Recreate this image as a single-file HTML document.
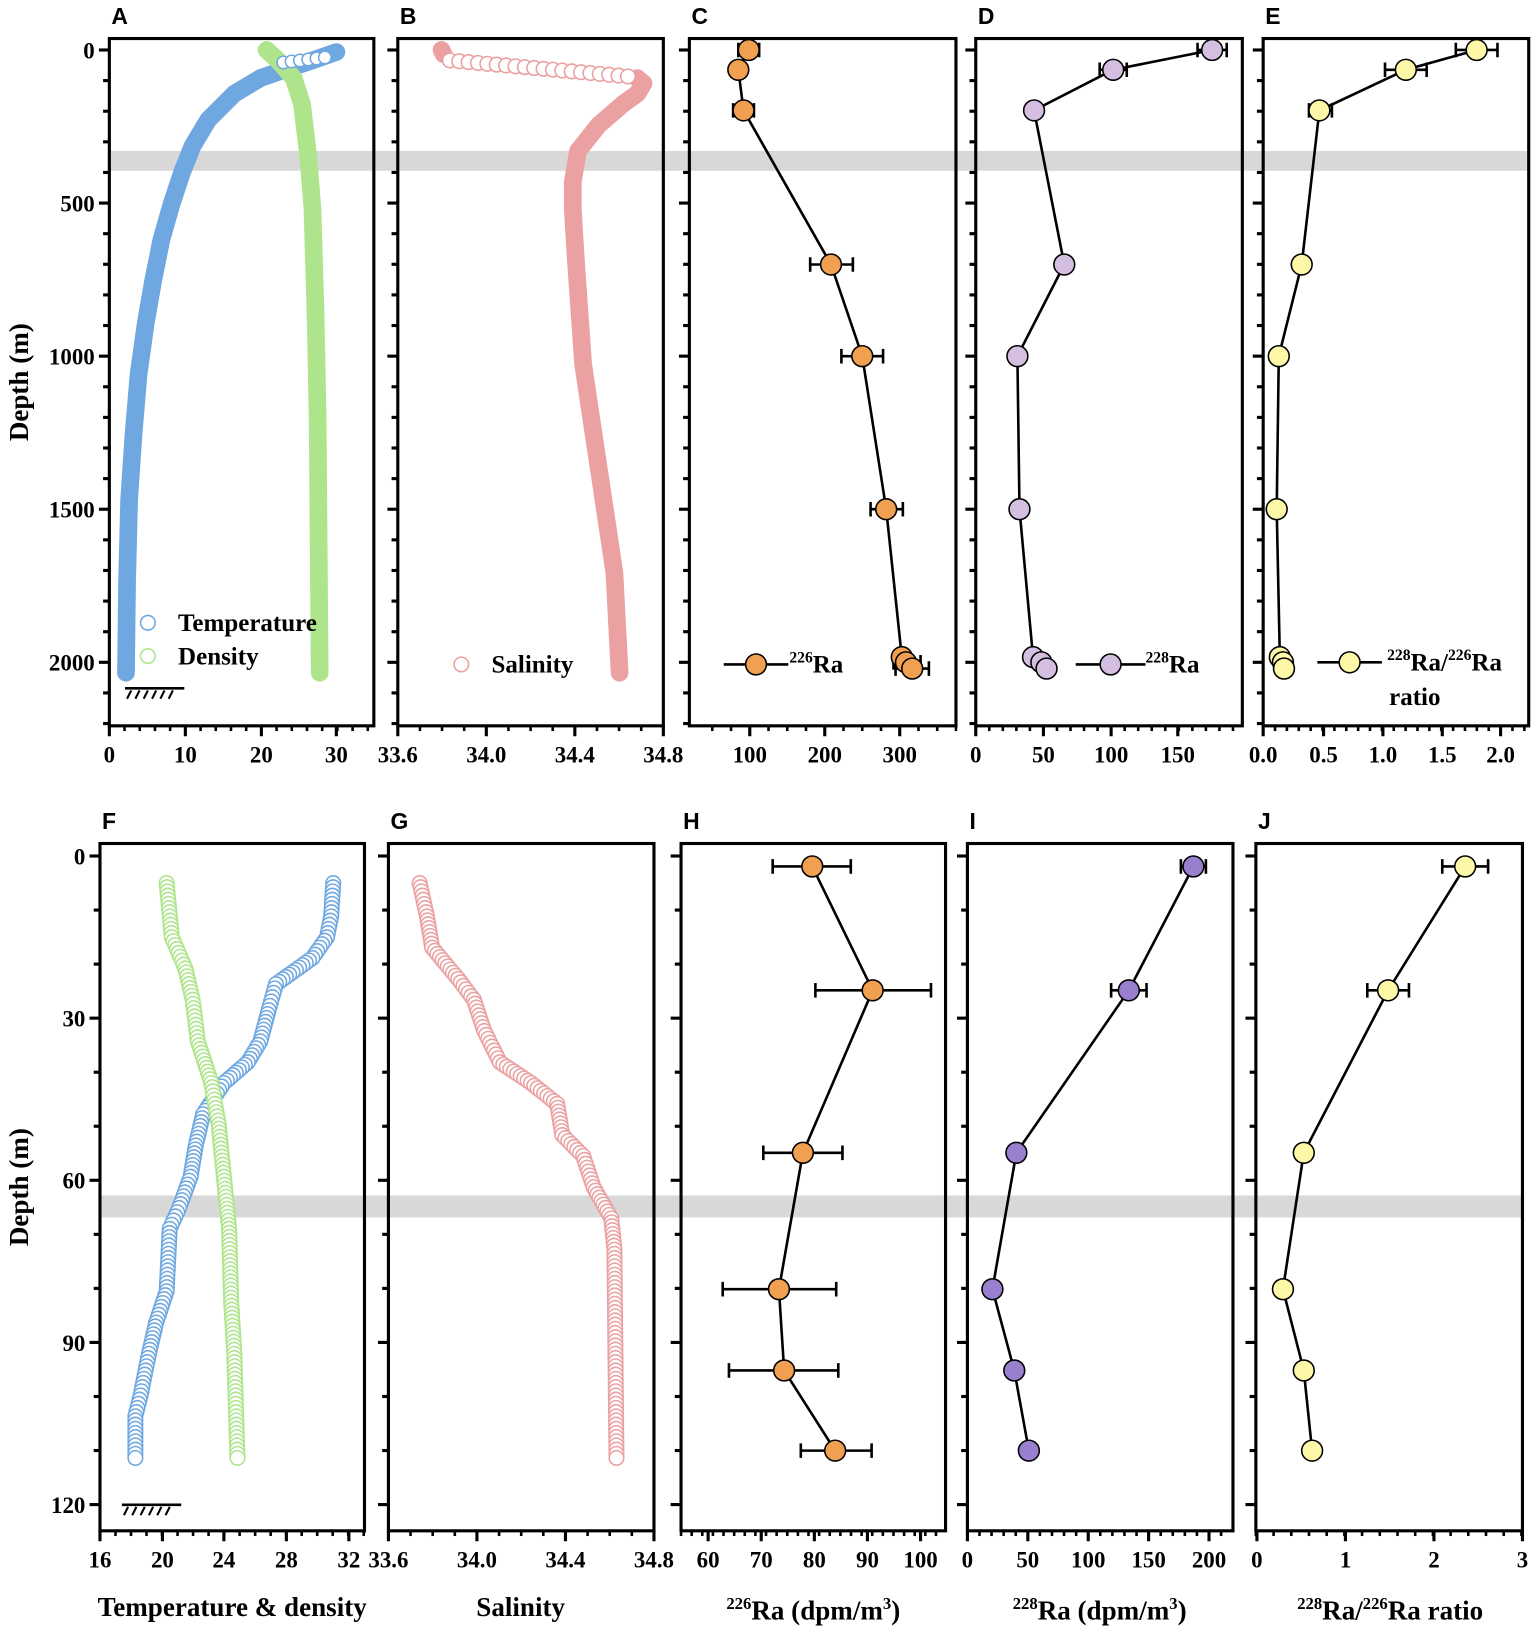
<!DOCTYPE html>
<html><head><meta charset="utf-8"><style>
html,body{margin:0;padding:0;background:#fff;}
svg{display:block;}
text{font-family:"Liberation Serif",serif;font-weight:bold;fill:#000;}
.pl{font-family:"Liberation Sans",sans-serif;font-size:22px;}
</style></head><body>
<svg id="s" width="1536" height="1636" viewBox="0 0 1475 1571" preserveAspectRatio="none" xmlns="http://www.w3.org/2000/svg"></svg>
<script>
const S=document.getElementById('s');let h='';
function A(x){h+=x;}
A('<rect x="105" y="145" width="1363" height="19" fill="#d8d8d8"/>');
A('<rect x="96" y="1148" width="1366" height="21" fill="#d8d8d8"/>');
function panel(x0,x1,y0,y1,lbl,yt,ylab,xt,xminor){
  A(`<text class="pl" x="${x0+2}" y="${y0-14}">${lbl}</text>`);
  yt.forEach(t=>{A(`<line x1="${x0}" x2="${x0-(t[2]?10:6)}" y1="${t[0]}" y2="${t[0]}" stroke="#000" stroke-width="3"/>`);
    if(ylab&&t[1]!=null)A(`<text x="${x0-14}" y="${t[0]+8}" font-size="22" text-anchor="end">${t[1]}</text>`);});
  xminor.forEach(x=>A(`<line x1="${x}" x2="${x}" y1="${y1}" y2="${y1+5}" stroke="#000" stroke-width="2.5"/>`));
  xt.forEach(t=>{A(`<line x1="${t[0]}" x2="${t[0]}" y1="${y1}" y2="${y1+10}" stroke="#000" stroke-width="3"/>`);
    A(`<text x="${t[0]}" y="${y1+35}" font-size="22" text-anchor="middle">${t[1]}</text>`);});
  A(`<rect x="${x0}" y="${y0}" width="${x1-x0}" height="${y1-y0}" fill="none" stroke="#000" stroke-width="3"/>`);
}
function minor(a,b,step){let r=[];for(let x=a;x<=b+0.1;x+=step)r.push(x);return r;}
let yt1=[];for(let i=0;i<=22;i++){let y=48+i*29.4;yt1.push([y,i%5==0?i*100:null,i%5==0]);}
let yt2=[];for(let i=0;i<=12;i++){let y=822+i*51.9;yt2.push([y,i%3==0?i*10:null,i%3==0]);}
const T1=37,B1=697,T2=810,B2=1470;
panel(105,359,T1,B1,'A',yt1,true,[[105,0],[178,10],[251,20],[323,30]],minor(105,359,14.6));
panel(382,637,T1,B1,'B',yt1,false,[[382,'33.6'],[467,'34.0'],[552,'34.4'],[637,'34.8']],minor(382,637,21.25));
panel(662,918,T1,B1,'C',yt1,false,[[720,100],[792,200],[864,300]],minor(684,918,18));
panel(937,1193,T1,B1,'D',yt1,false,[[937,0],[1002,50],[1067,100],[1131,150]],minor(937,1193,13));
panel(1213,1468,T1,B1,'E',yt1,false,[[1213,'0.0'],[1271,'0.5'],[1328,'1.0'],[1385,'1.5'],[1441,'2.0']],minor(1213,1468,11.4));
panel(96,350,T2,B2,'F',yt2,true,[[96,16],[156,20],[215,24],[275,28],[335,32]],minor(96,350,14.9));
panel(373,628,T2,B2,'G',yt2,false,[[373,'33.6'],[458,'34.0'],[543,'34.4'],[628,'34.8']],minor(373,628,21.25));
panel(654,908,T2,B2,'H',yt2,false,[[680,60],[731,70],[782,80],[833,90],[884,100]],minor(654,908,10.2));
panel(929,1184,T2,B2,'I',yt2,false,[[929,0],[987,50],[1045,100],[1103,150],[1161,200]],minor(929,1184,11.6));
panel(1206,1462,T2,B2,'J',yt2,false,[[1207,0],[1292,1],[1377,2],[1462,3]],minor(1206,1462,17));
function thick(pts,c){A(`<polyline points="${pts.map(p=>p.join(',')).join(' ')}" fill="none" stroke="${c}" stroke-width="17" stroke-linecap="round" stroke-linejoin="round"/>`);}
thick([[323,50],[300,58],[270,68],[250,75],[225,90],[200,115],[185,140],[175,165],[165,195],[155,230],[147,270],[140,310],[133,360],[128,420],[124,480],[122,560],[121,646]],'#6fa8e0');
thick([[256,48],[266,57],[282,75],[290,100],[296,150],[300,200],[303,300],[305,400],[307,646]],'#aee58c');
thick([[424,48],[426,52]],'#eba1a1');
thick([[612,75],[618,80],[612,90],[598,100],[575,120],[555,145],[550,175],[550,200],[553,250],[560,350],[575,450],[590,550],[595,646]],'#eba1a1');
for(let x=432;x<610;x+=9)A(`<circle cx="${x}" cy="${58+(x-432)*0.09}" r="7" fill="#fff" stroke="#eba1a1" stroke-width="1.5"/>`);
for(let x=272;x<318;x+=8)A(`<circle cx="${x}" cy="${60-(x-272)*0.12}" r="6" fill="#fff" stroke="#6fa8e0" stroke-width="1.5"/>`);
function dots(pts,c){for(let i=0;i<pts.length-1;i++){let [x1,y1]=pts[i],[x2,y2]=pts[i+1];let d=Math.hypot(x2-x1,y2-y1),n=Math.max(1,Math.round(d/4));for(let k=0;k<n;k++){let t=k/n;A(`<circle cx="${x1+(x2-x1)*t}" cy="${y1+(y2-y1)*t}" r="7" fill="#fff" stroke="${c}" stroke-width="1.5"/>`);}}
 let p=pts[pts.length-1];A(`<circle cx="${p[0]}" cy="${p[1]}" r="7" fill="#fff" stroke="${c}" stroke-width="1.5"/>`);}
dots([[320,848],[318,880],[314,900],[300,920],[265,945],[258,970],[250,1000],[238,1020],[215,1040],[195,1070],[188,1100],[183,1130],[172,1160],[163,1180],[160,1240],[150,1270],[143,1300],[135,1340],[130,1360],[130,1400]],'#6fa8e0');
dots([[160,848],[165,900],[178,930],[185,960],[190,1000],[203,1040],[210,1080],[215,1130],[220,1180],[222,1250],[225,1300],[228,1400]],'#aee58c');
dots([[403,848],[410,880],[415,910],[440,940],[455,960],[465,990],[480,1020],[510,1040],[535,1060],[540,1090],[560,1110],[570,1140],[587,1170],[590,1200],[592,1400]],'#eba1a1');
function series(pts,c,r){A(`<polyline points="${pts.map(p=>p[1]+','+p[0]).join(' ')}" fill="none" stroke="#000" stroke-width="2.5"/>`);
 pts.forEach(p=>{if(p[2]){let [a,b]=p[2];A(`<path d="M${a} ${p[0]}H${b}M${a} ${p[0]-7}V${p[0]+7}M${b} ${p[0]-7}V${p[0]+7}" stroke="#000" stroke-width="2.5" fill="none"/>`);}});
 pts.forEach(p=>A(`<circle cx="${p[1]}" cy="${p[0]}" r="${r}" fill="${c}" stroke="#000" stroke-width="1.5"/>`));}
const O='#f0a050',P='#d4bfe0',Y='#fdf7a8',PU='#9b7fcf';
series([[48,719,[709,729]],[67,709],[106,714,[704,724]],[254,798,[778,819]],[342,828,[808,848]],[489,851,[836,867]],[631,866],[636,870,[858,884]],[642,876,[860,892]]],O,10);
series([[48,1164,[1150,1178]],[67,1069,[1056,1082]],[106,993],[254,1022],[342,977],[489,979],[631,992],[636,1000],[642,1005]],P,10);
series([[48,1418,[1398,1438]],[67,1350,[1330,1370]],[106,1267,[1257,1279]],[254,1250],[342,1228],[489,1226],[631,1229],[636,1232],[642,1233]],Y,10);
series([[832,780,[742,817]],[951,838,[783,894]],[1107,771,[733,809]],[1238,748,[694,803]],[1316,753,[700,805]],[1393,802,[769,837]]],O,10);
series([[832,1146,[1134,1158]],[951,1084,[1067,1101]],[1107,976],[1238,953],[1316,974],[1393,988]],PU,10);
series([[832,1407,[1385,1429]],[951,1333,[1313,1353]],[1107,1252],[1238,1232],[1316,1252],[1393,1260]],Y,10);
function leg(x1,x2,y,c){A(`<line x1="${x1}" x2="${x2}" y1="${y}" y2="${y}" stroke="#000" stroke-width="2.5"/><circle cx="${(x1+x2)/2}" cy="${y}" r="10" fill="${c}" stroke="#000" stroke-width="1.5"/>`);}
leg(695,757,638,O);A('<text x="758" y="646" font-size="24"><tspan font-size="15" dy="-10">226</tspan><tspan dy="10">Ra</tspan></text>');
leg(1033,1100,638,P);A('<text x="1100" y="646" font-size="24"><tspan font-size="15" dy="-10">228</tspan><tspan dy="10">Ra</tspan></text>');
leg(1265,1327,636,Y);A('<text x="1332" y="644" font-size="24"><tspan font-size="15" dy="-10">228</tspan><tspan dy="10">Ra/</tspan><tspan font-size="15" dy="-10">226</tspan><tspan dy="10">Ra</tspan></text><text x="1334" y="677" font-size="24">ratio</text>');
A('<circle cx="142" cy="598" r="7" fill="#fff" stroke="#6fa8e0" stroke-width="1.5"/><text x="171" y="606" font-size="24">Temperature</text>');
A('<circle cx="142" cy="630" r="7" fill="#fff" stroke="#aee58c" stroke-width="1.5"/><text x="171" y="638" font-size="24">Density</text>');
A('<circle cx="443" cy="638" r="7" fill="#fff" stroke="#eba1a1" stroke-width="1.5"/><text x="472" y="646" font-size="24">Salinity</text>');
function ground(x,y){A(`<line x1="${x}" x2="${x+57}" y1="${y}" y2="${y}" stroke="#000" stroke-width="2.5"/>`);for(let i=0;i<6;i++)A(`<line x1="${x+6+i*8}" x2="${x+2+i*8}" y1="${y+2}" y2="${y+10}" stroke="#000" stroke-width="2"/>`);}
ground(120,661);ground(117,1445);
A('<text transform="translate(27,367) rotate(-90)" font-size="26" text-anchor="middle">Depth (m)</text>');
A('<text transform="translate(27,1140) rotate(-90)" font-size="26" text-anchor="middle">Depth (m)</text>');
A('<text x="223" y="1552" font-size="26" text-anchor="middle">Temperature &amp; density</text>');
A('<text x="500" y="1552" font-size="26" text-anchor="middle">Salinity</text>');
A('<text x="781" y="1555" font-size="26" text-anchor="middle"><tspan font-size="16" dy="-10">226</tspan><tspan dy="10">Ra (dpm/m</tspan><tspan font-size="16" dy="-10">3</tspan><tspan dy="10">)</tspan></text>');
A('<text x="1056" y="1555" font-size="26" text-anchor="middle"><tspan font-size="16" dy="-10">228</tspan><tspan dy="10">Ra (dpm/m</tspan><tspan font-size="16" dy="-10">3</tspan><tspan dy="10">)</tspan></text>');
A('<text x="1335" y="1555" font-size="26" text-anchor="middle"><tspan font-size="16" dy="-10">228</tspan><tspan dy="10">Ra/</tspan><tspan font-size="16" dy="-10">226</tspan><tspan dy="10">Ra ratio</tspan></text>');
S.innerHTML=h;
</script>
</body></html>
